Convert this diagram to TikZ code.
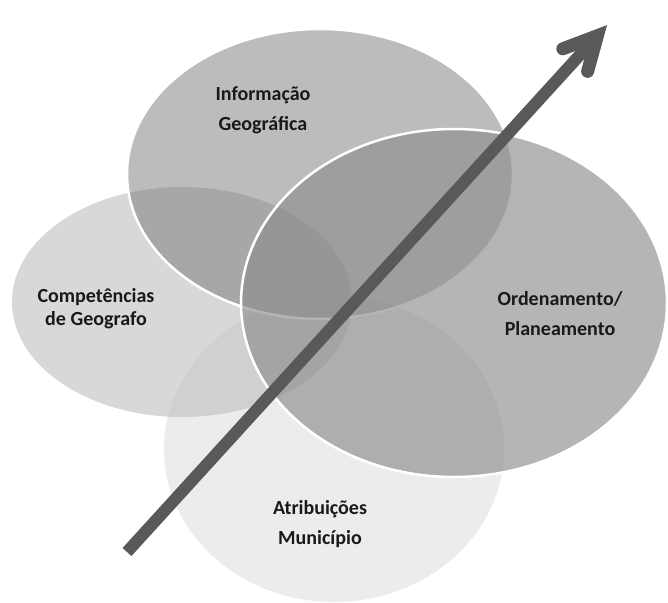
\documentclass[tikz,border=0pt]{standalone}
\usepackage{fontspec}
\setmainfont{Carlito}
\usetikzlibrary{shapes.geometric}
\definecolor{compc}{gray}{0.694}
\definecolor{atrc}{gray}{0.733}
\definecolor{infoc}{gray}{0.459}
\definecolor{ordc}{gray}{0.557}
\definecolor{arrowc}{gray}{0.35}
\definecolor{txtc}{gray}{0.1}
\begin{document}
\begin{tikzpicture}[x=1pt,y=-1pt,
  venn/.style={ellipse, inner sep=0pt, outer sep=0pt},
  outline/.style={draw=white, line width=2.5pt},
  lbl/.style={font=\bfseries\fontsize{20}{30}\selectfont, align=center, text=txtc, inner sep=0pt},
  shaft/.style={draw=arrowc, line width=12pt},
  headstroke/.style={draw=arrowc, line width=13pt, line cap=round, line join=miter}]
\useasboundingbox (0,0) rectangle (668,602);
% ellipses
\node[venn, minimum width=340pt, minimum height=230pt, fill=compc, fill opacity=0.5] (comp) at (182,302) {};
\node[venn, minimum width=340pt, minimum height=306pt, fill=atrc, fill opacity=0.28] (atr) at (334,449) {};
\node[venn, outline, minimum width=386pt, minimum height=290pt, fill=infoc, fill opacity=0.487] (info) at (320,174) {};
\node[venn, outline, minimum width=426pt, minimum height=348pt, fill=ordc, fill opacity=0.657] (ord) at (454,303) {};
% labels
\node[lbl] (tinfo) at (263,110) {Informação\\Geográfica};
\node[lbl, font=\bfseries\fontsize{20}{23}\selectfont] (tcomp) at (96,309) {Competências\\de Geografo};
\node[lbl] (tord) at (560,313.5) {Ordenamento/\\Planeamento};
\node[lbl] (tatr) at (320,524) {Atribuições\\Município};
% arrow
\coordinate (tail) at (127,552);
\coordinate (head) at (597.4,35.7);
\coordinate (barbL) at (562.8,48.8);
\coordinate (barbR) at (587.6,71.4);
\draw[shaft] (tail) -- (head);
\draw[headstroke] (barbL) -- (head) -- (barbR);
\end{tikzpicture}
\end{document}
